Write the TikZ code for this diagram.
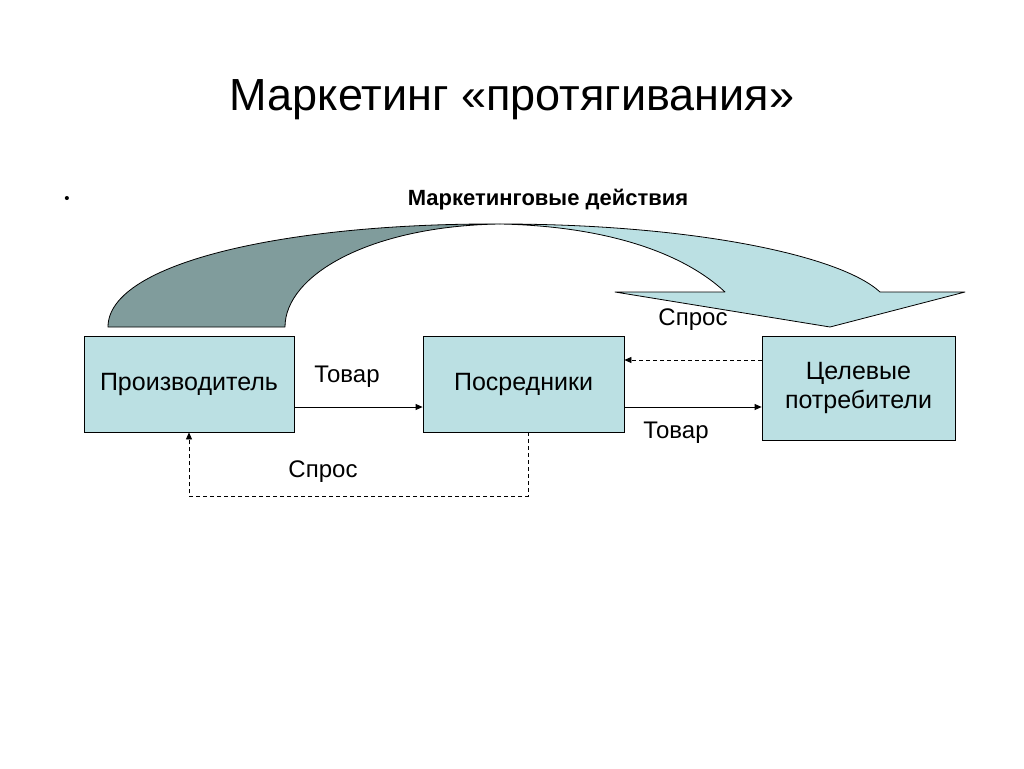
\documentclass[tikz,border=0pt]{standalone}
\usepackage{fontspec}
\setmainfont{Liberation Sans}
\usetikzlibrary{arrows.meta}
\definecolor{boxfill}{RGB}{187,224,227}
\definecolor{darkfill}{RGB}{128,156,156}
\begin{document}
\begin{tikzpicture}[x=1pt,y=-1pt,
  box/.style={draw=black, fill=boxfill, line width=0.8pt, align=center, font=\fontsize{25}{29}\selectfont},
  lbl/.style={font=\fontsize{24}{28}\selectfont},
  conn/.style={-{Triangle[length=7pt,width=6pt]}, line width=0.8pt},
  dconn/.style={conn, dashed, dash pattern=on 4pt off 3pt},
  shapeline/.style={draw=black, line width=0.8pt, line join=round}
]
\useasboundingbox (0,0) rectangle (1024,768);

\node[font=\fontsize{45}{50}\selectfont] (title) at (512,100) {Маркетинг «протягивания»};
\node[font=\fontsize{15}{18}\selectfont] (bullet) at (67,199.5) {•};
\node[font=\bfseries\fontsize{22}{26}\selectfont] (act) at (548,200) {Маркетинговые действия};

% curved arrow
\path[shapeline, fill=darkfill] (108,327) .. controls (108,262) and (290,223) .. (500,224)
  .. controls (370,226) and (285,275) .. (285,327) -- cycle;
\path[shapeline, fill=boxfill] (500,224) .. controls (690,224) and (840,255) .. (880,292)
  -- (965,292) -- (830,327) -- (615,292) -- (725,292)
  .. controls (680,250) and (600,226) .. (500,224) -- cycle;

\node[box, minimum width=210pt, minimum height=96pt] (prod) at (189,384) {Производитель};
\node[box, minimum width=201pt, minimum height=96pt] (posr) at (523.5,384) {Посредники};
\node[box, minimum width=193pt, minimum height=104pt] (cons) at (858.5,388) {Целевые\\потребители};

\coordinate (ya) at (0,407);
\coordinate (yb) at (0,360);
\draw[conn] (prod.east |- ya) -- (posr.west |- ya);
\draw[conn] (posr.east |- ya) -- (cons.west |- ya);
\draw[dconn] (cons.west |- yb) -- (posr.east |- yb);
\draw[dconn] ([xshift=4.5pt]posr.south) -- ++(0,64) -| (prod.south);

\node[lbl] (t1) at (347,377) {Товар};
\node[lbl] (t2) at (676,433) {Товар};
\node[lbl] (s1) at (693,320) {Спрос};
\node[lbl] (s2) at (323,472) {Спрос};
\end{tikzpicture}
\end{document}
